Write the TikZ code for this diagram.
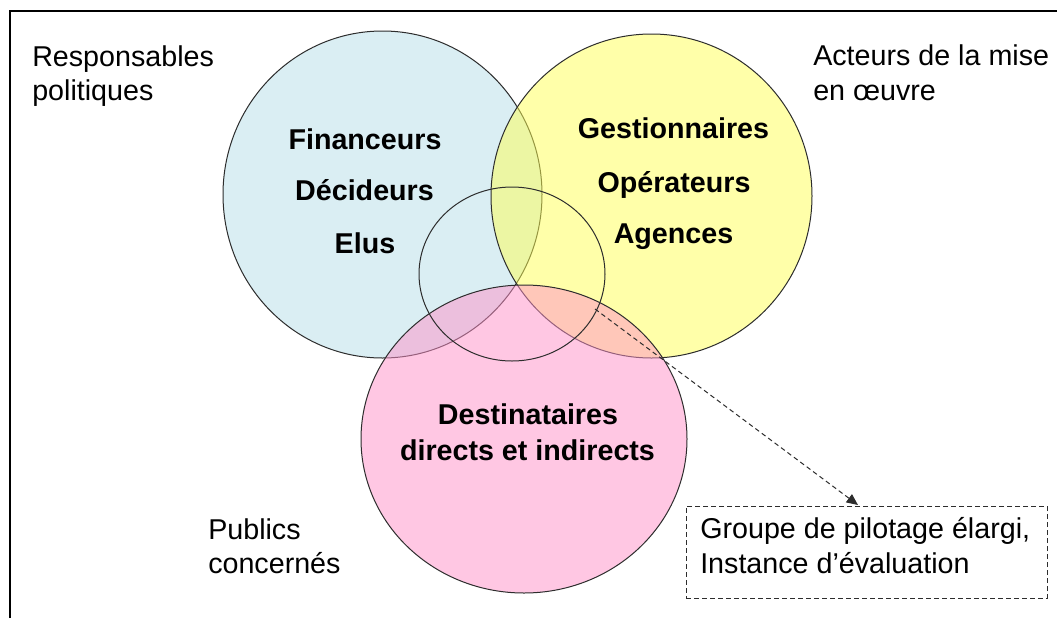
\documentclass[tikz,border=0pt]{standalone}
\usepackage{fontspec}
\setmainfont{Liberation Sans}
\usetikzlibrary{arrows.meta}
\definecolor{bluefill}{RGB}{218,238,243}
\definecolor{yellowfill}{RGB}{255,255,85}
\definecolor{pinkfill}{RGB}{255,145,201}
\definecolor{outline}{RGB}{45,45,45}
\begin{document}
\begin{tikzpicture}[x=0.75pt,y=-0.75pt,
  lbl/.style={font=\fontsize{21.5}{25}\selectfont, inner sep=0, anchor=base west},
  blbl/.style={font=\fontsize{21.5}{25}\selectfont\bfseries, inner sep=0, anchor=base},
  ring/.style={draw=outline, line width=0.75pt},
  dashline/.style={draw=outline, line width=0.75pt, dash pattern=on 3.5pt off 2.5pt}]
\useasboundingbox (0,0) rectangle (1057,618);
\fill[white] (0,0) rectangle (1057,618);
% frame
\draw[line width=1.5pt] (10,618) -- (10,11) -- (1057,11);
% circles
\filldraw[ring, fill=bluefill] (382.5,194.5) ellipse [x radius=159.5, y radius=163.5];
\filldraw[ring, fill=yellowfill, fill opacity=0.5] (651.5,196) ellipse [x radius=160.5, y radius=162];
\filldraw[ring, fill=pinkfill, fill opacity=0.5] (524,439) ellipse [x radius=163, y radius=154];
\draw[ring] (512,274) ellipse [x radius=93, y radius=87];
% outer labels
\node[lbl] (resp1) at (32,66) {Responsables};
\node[lbl] (resp2) at (32,100) {politiques};
\node[lbl] (act1) at (813,65) {Acteurs de la mise};
\node[lbl] (act2) at (813,100) {en œuvre};
\node[lbl] (pub1) at (208,539) {Publics};
\node[lbl] (pub2) at (208,573) {concernés};
% inner labels
\node[blbl] (fin) at (365,149) {Financeurs};
\node[blbl] (dec) at (364.5,200) {Décideurs};
\node[blbl] (elus) at (365,253) {Elus};
\node[blbl] (gest) at (673.5,138) {Gestionnaires};
\node[blbl] (oper) at (674,192) {Opérateurs};
\node[blbl] (agen) at (673.5,243) {Agences};
\node[blbl] (dest1) at (528,424) {Destinataires};
\node[blbl] (dest2) at (527.5,460) {directs et indirects};
% box
\node[dashline, minimum width=270.75pt, minimum height=69pt, inner sep=0] (box) at (866.5,552) {};
\node[lbl] (grp1) at (700,538) {Groupe de pilotage élargi,};
\node[lbl] (grp2) at (700,573) {Instance d’évaluation};
% arrow
\coordinate (start) at (595,309);
\coordinate (tip) at (858,505);
\draw[dashline, -{Triangle[length=8.5pt,width=7.5pt]}] (start) -- (tip);
\end{tikzpicture}
\end{document}
